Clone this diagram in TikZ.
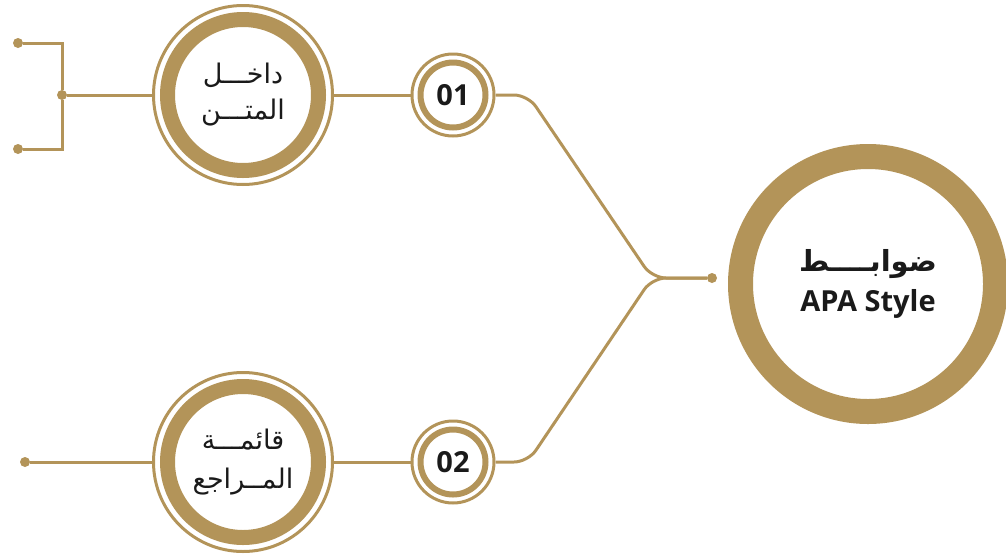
\documentclass[tikz,border=0pt]{standalone}
\usepackage{fontspec}
\setmainfont{Open Sans}
\newfontfamily\arabicfont[Script=Arabic]{DejaVu Sans}
\TeXXeTstate=1
\definecolor{gold}{RGB}{179,148,89}
\definecolor{ink}{RGB}{26,26,26}
\begin{document}
\begin{tikzpicture}[x=1pt,y=-1pt,
wire/.style={draw=gold,line width=3pt},
dot/.style={circle,fill=gold,inner sep=0pt,minimum size=10pt},
halo/.style={circle,draw=gold,line width=3pt,inner sep=0pt},
band/.style={circle,draw=gold,inner sep=0pt,align=center,text=ink}
]
\useasboundingbox (0,0) rectangle (1006,555);
\def\ya{95}
\def\yb{462}
% main ring
\node[band,line width=25pt,minimum size=255pt,
  font=\fontsize{29}{40}\selectfont\bfseries] (apa) at (868,284)
  {{\arabicfont\beginR ضوابــــط\endR}\\APA Style};
% topic rings
\node[halo,minimum size=179pt] (outA) at (243,\ya) {};
\node[band,line width=15pt,minimum size=151pt,
  font=\arabicfont\fontsize{27}{36}\selectfont] (txtA) at (outA)
  {\beginR داخـــل\endR\\\beginR المتـــن\endR};
\node[halo,minimum size=179pt] (outB) at (243,\yb) {};
\node[band,line width=15pt,minimum size=151pt,
  font=\arabicfont\fontsize{27}{39}\selectfont] (txtB) at (outB)
  {\beginR قائمـــة\endR\\\beginR المــراجع\endR};
% number rings
\node[halo,minimum size=82pt] (outN1) at (453,\ya) {};
\node[band,line width=6pt,minimum size=65pt,
  font=\fontsize{29}{30}\selectfont\bfseries] (num1) at (outN1) {01};
\node[halo,minimum size=82pt] (outN2) at (453,\yb) {};
\node[band,line width=6pt,minimum size=65pt,
  font=\fontsize{29}{30}\selectfont\bfseries] (num2) at (outN2) {02};
% dots
\node[dot] (dotR) at (712,278) {};
\node[dot] (tipA1) at (18,43) {};
\node[dot] (tipA2) at (18,149) {};
\node[dot] (hub) at (62,\ya) {};
\node[dot] (tipB) at (25,\yb) {};
% wires
\draw[wire] (outA) -- (outN1);
\draw[wire] (outB) -- (outN2);
\draw[wire,rounded corners=14pt] (outN1.east) -- (528,\ya) -- (652,278) -- (dotR);
\draw[wire,rounded corners=14pt] (outN2.east) -- (528,\yb) -- (652,278) -- (dotR);
\draw[wire] (tipA1) -| (hub) |- (tipA2);
\draw[wire] (hub) -- (outA);
\draw[wire] (tipB) -- (outB);
\end{tikzpicture}
\end{document}
